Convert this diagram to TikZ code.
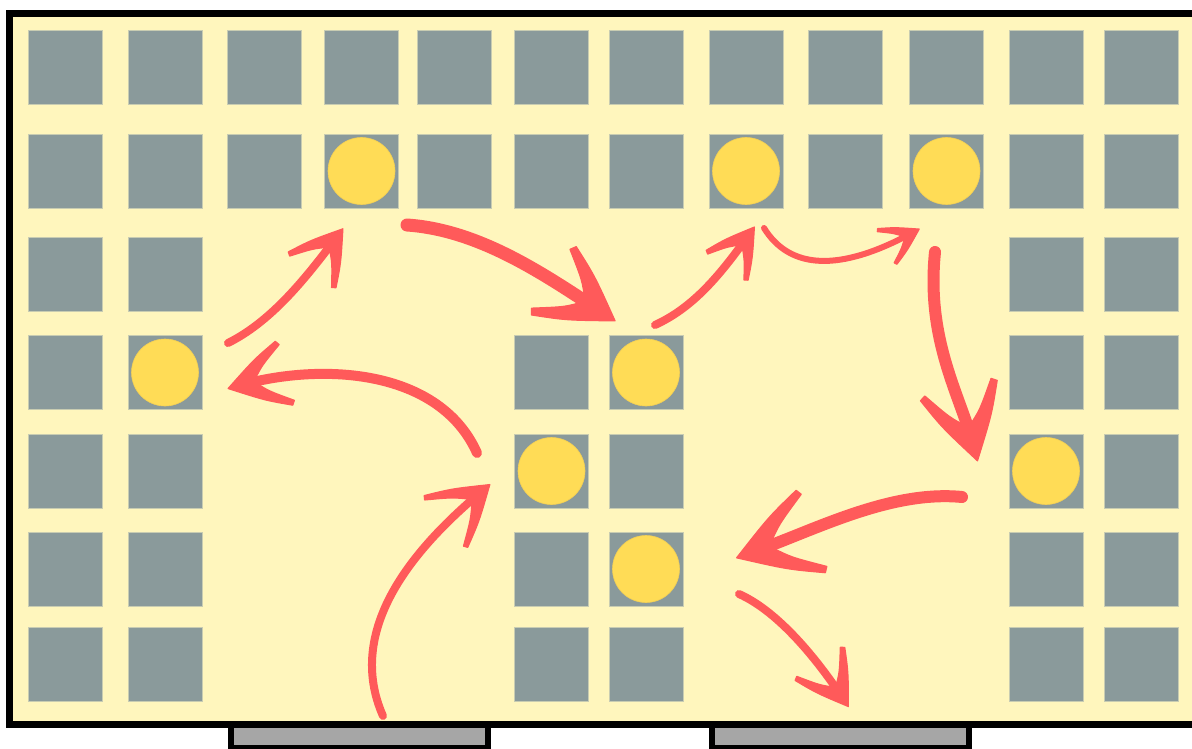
\documentclass[tikz,border=0pt]{standalone}
\usetikzlibrary{decorations.markings}
\definecolor{bgyellow}{HTML}{FFF6BD}
\definecolor{cellgray}{HTML}{8A9A9B}
\definecolor{celledge}{HTML}{C8CCB2}
\definecolor{coinfill}{HTML}{FFDC56}
\definecolor{coinedge}{HTML}{F2CF55}
\definecolor{brushred}{HTML}{FF5A5A}
\definecolor{footgray}{HTML}{A6A6A6}
% tapered chevron head: #1 = length along axis, #2 = half width, #3 = thickness at the tip
\newcommand\brushhead[3]{%
  \pgfmathsetmacro\bhA{atan2(#2,#1)}%
  \pgfmathsetmacro\bhS{sin(\bhA)}%
  \pgfmathsetmacro\bhC{cos(\bhA)}%
  \pgfmathsetmacro\bhF{0.5*#3/\bhS}%
  \pgfmathsetmacro\bhE{0.17*#3}% half thickness at the barb end
  \pgfmathsetmacro\bhT{0.5*(0.5*#3+\bhE)}% mean half thickness
  \pgfmathsetmacro\bhB{0.04*#1}% bow
  \pgfmathsetmacro\bhOx{-#1+\bhE*\bhS}%
  \pgfmathsetmacro\bhOy{#2+\bhE*\bhC}%
  \pgfmathsetmacro\bhIx{-#1-\bhE*\bhS}%
  \pgfmathsetmacro\bhIy{#2-\bhE*\bhC}%
  \pgfmathsetmacro\bhPx{-0.5*#1+(\bhB+\bhT)*\bhS}%
  \pgfmathsetmacro\bhPy{0.5*#2+(\bhB+\bhT)*\bhC}%
  \pgfmathsetmacro\bhQx{-0.5*#1+(\bhB-\bhT)*\bhS}%
  \pgfmathsetmacro\bhQy{0.5*#2+(\bhB-\bhT)*\bhC}%
  \filldraw[fill=brushred, draw=brushred, line width=1.2pt, line join=round]
    (\bhF,0) .. controls (\bhPx,\bhPy) .. (\bhOx,\bhOy) -- (\bhIx,\bhIy)
    .. controls (\bhQx,\bhQy) .. (-\bhF,0)
    .. controls (\bhQx,-\bhQy) .. (\bhIx,-\bhIy) -- (\bhOx,-\bhOy)
    .. controls (\bhPx,-\bhPy) .. (\bhF,0) -- cycle;
}
\begin{document}
\begin{tikzpicture}[x=1pt,y=-1pt,
  cell/.style={draw=celledge, line width=0.8pt, fill=cellgray, minimum size=74pt, inner sep=0pt, outer sep=0pt},
  coinnode/.style={circle, fill=coinfill, draw=coinedge, line width=0.6pt, minimum size=67pt, inner sep=0pt},
  frame/.style={draw=black, line width=7pt, fill=bgyellow},
  foot/.style={draw=black, line width=6pt, fill=footgray},
  brush/.style={draw=brushred, line width=#1, line cap=round},
  brushtip/.style args={#1/#2/#3}{postaction={decorate,
     decoration={markings, mark=at position 0.9999 with {\brushhead{#1}{#2}{#3}}}}}]
\useasboundingbox (0,0) rectangle (1192,749);
\clip (0,0) rectangle (1192,749);
\fill[white] (0,0) rectangle (1192,749);
% feet
\draw[foot] (231,715) rectangle (488,748);
\draw[foot] (712,715) rectangle (969,748);
% frame
\draw[frame] (9,13.5) rectangle (1215,724.5);
% cells
\foreach \c/\x in {1/65,2/165,3/264.5,4/361.5,5/454,6/551.5,7/646,8/746,9/845,10/946.5,11/1046,12/1141} {
  \node[cell] (c1-\c) at (\x,67) {};
  \node[cell] (c2-\c) at (\x,171) {};
}
\foreach \r/\y in {3/274,4/372.5,5/471,6/569,7/664} {
  \foreach \c/\x in {1/65,2/165,11/1046,12/1141} {
    \node[cell] (c\r-\c) at (\x,\y) {};
  }
}
\foreach \r/\y in {4/372.5,5/471,6/569,7/664} {
  \foreach \c/\x in {6/551.5,7/646} {
    \node[cell] (c\r-\c) at (\x,\y) {};
  }
}
% coins
\node[coinnode] (k1) at (c2-4) {};
\node[coinnode] (k2) at (c2-8) {};
\node[coinnode] (k3) at (c2-10) {};
\node[coinnode] (k4) at (c4-2) {};
\node[coinnode] (k5) at (c4-7) {};
\node[coinnode] (k6) at (c5-6) {};
\node[coinnode] (k7) at (c5-11) {};
\node[coinnode] (k8) at (c6-7) {};
% arrow end points
\coordinate (a1s) at (228,343);  \coordinate (a1e) at (336,238);
\coordinate (a2s) at (407,225);  \coordinate (a2e) at (600,311);
\coordinate (a3s) at (655,325);  \coordinate (a3e) at (748,236);
\coordinate (a4s) at (764,228);  \coordinate (a4e) at (912,233);
\coordinate (a5s) at (935,252);  \coordinate (a5e) at (973,444);
\coordinate (a6s) at (962,497);  \coordinate (a6e) at (753,552);
\coordinate (a7s) at (739,594);  \coordinate (a7e) at (842,697);
\coordinate (a8s) at (383,716);  \coordinate (a8e) at (481,492);
\coordinate (a9s) at (477,453);  \coordinate (a9e) at (241,385);
% arrows
\draw[brush=8pt, brushtip=41/28/13]
  (a1s) .. controls (270,322) and (303,282) .. (a1e);
\draw[brush=13pt, brushtip=57/38/20]
  (a2s) .. controls (480,230) and (545,275) .. (a2e);
\draw[brush=8pt, brushtip=37/24/12]
  (a3s) .. controls (692,308) and (718,278) .. (a3e);
\draw[brush=6pt, brushtip=29/19/9]
  (a4s) .. controls (790,270) and (840,272) .. (a4e);
\draw[brush=12pt, brushtip=57/37/19]
  (a5s) .. controls (926,340) and (960,395) .. (a5e);
\draw[brush=12pt, brushtip=63/41/19]
  (a6s) .. controls (890,490) and (815,530) .. (a6e);
\draw[brush=8pt, brushtip=41/28/13]
  (a7s) .. controls (775,610) and (812,652) .. (a7e);
\draw[brush=8pt, brushtip=47/32/13]
  (a8s) .. controls (345,630) and (412,550) .. (a8e);
\draw[brush=10pt, brushtip=46/31/15]
  (a9s) .. controls (440,370) and (325,362) .. (a9e);
\end{tikzpicture}
\end{document}
